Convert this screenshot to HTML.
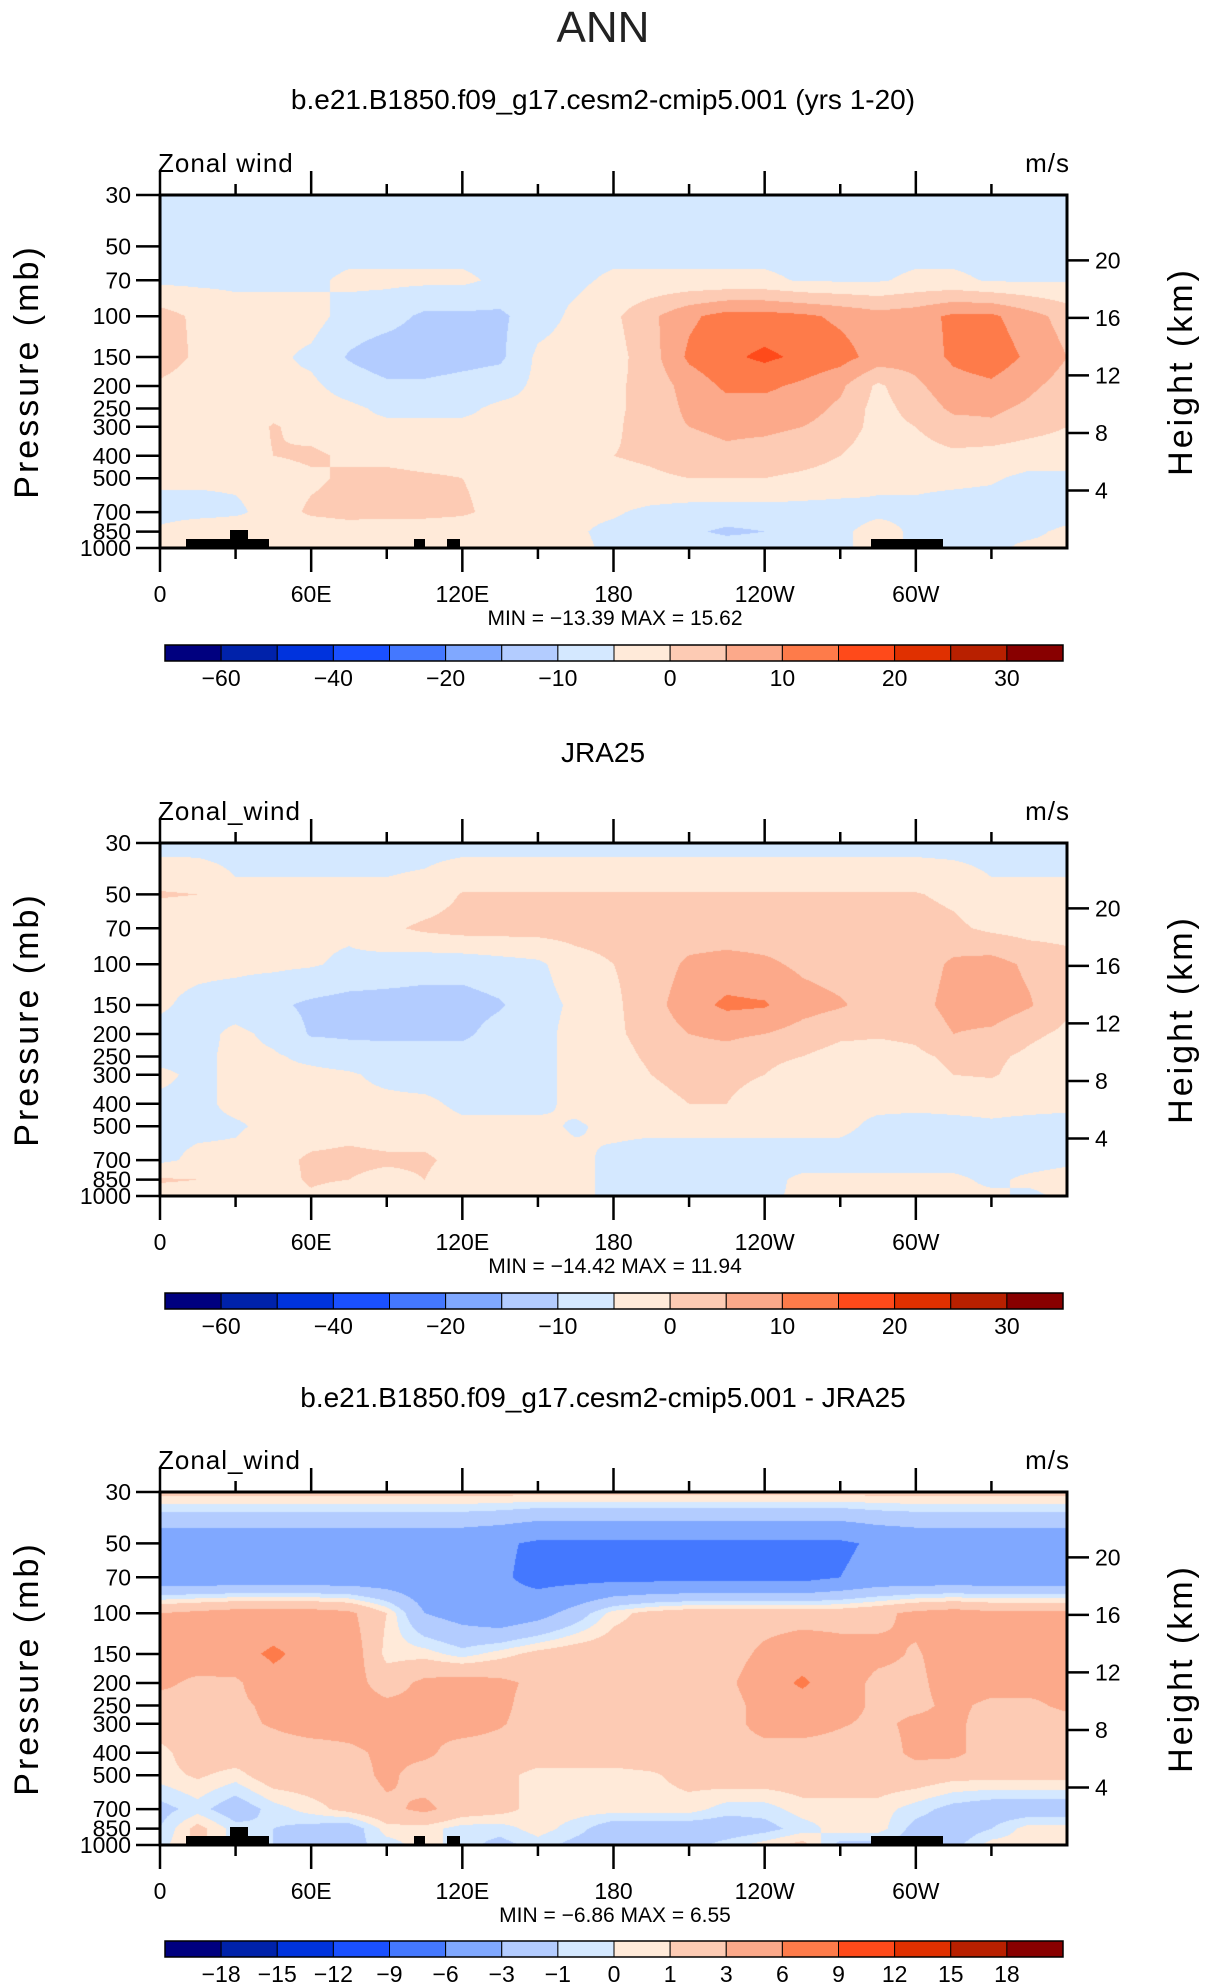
<!DOCTYPE html>
<html><head><meta charset="utf-8">
<style>
html,body{margin:0;padding:0;background:#fff;}
#wrap{position:relative;width:1206px;height:1987px;overflow:hidden;font-family:"Liberation Sans",sans-serif;}
canvas{position:absolute;}
svg{position:absolute;left:0;top:0;}
</style></head>
<body>
<div id="wrap">
<canvas id="c1"></canvas>
<canvas id="c2"></canvas>
<canvas id="c3"></canvas>
<svg id="ov" width="1206" height="1987"></svg>
</div>
<script>
// ---- data ----
const lons = [0,15,30,45,60,75,90,105,120,135,150,165,180,195,210,225,240,255,270,285,300,315,330,345,360];
const plevs = [30,50,70,100,150,200,250,300,400,500,700,850,1000];
const modelU = [
[-8,-8,-8,-8,-8,-8,-8,-8,-8,-8,-8,-8,-8,-8,-8,-8,-8,-8,-8,-8,-8,-8,-8,-8,-8],
[-7,-7,-7,-7,-7,-7,-7,-7,-7,-7,-7,-7,-7,-7,-7,-7,-7,-7,-7,-7,-7,-7,-7,-7,-7],
[-6,-6,-6,-6,-6,-4,-4,-4,-4,-6,-6,-6,-4,-4,-4,-4,-4,-5.5,-5.5,-5.5,-4,-4,-5.5,-5.5,-5.5],
[2,-1,-3,-3,-3,-7,-8,-11,-11,-11,-7,-4,-1,4,9,12,12,11,9,7,8,11,11,7,3],
[3,-1,-3,-4,-6,-10.5,-13,-13,-12,-11,-4,-3,-2,3,11,14,16,14,12,8,7,11,13,9,5],
[-1,-3,-4,-4,-4,-7,-9,-9,-8,-7,-4,-3,-1,2,7,11,11,9,6,-1,4,8,9,6,3],
[-2,-3,-4,-2,-3,-4,-6,-6,-6,-4,-4,-3,-1,2,6,8,8,7,4,-2,2,6,6,4,1],
[-3,-3,-4,0.5,-2,-4,-4,-4,-4,-4,-4,-3,-1,3,5,6,6,5,3,-2,0,3,4,2,0],
[-3,-3,-3,0,1,-1,-2,-3,-3,-3,-3,-2,0,1,3,4,3,2,0,-3,-2,-1,-2,-3,-3],
[-4,-4,-4,-3,-1,1,2,1,0,-2,-3,-3,-2,-1,0,0,0,-1,-2,-4,-4,-4,-4.5,-6,-6],
[-7,-7,-6,-3,1,2,2,2,1,-2,-3,-4,-4.5,-6,-7,-7,-7,-7,-7,-6,-6,-7,-7,-8,-7],
[-4,-1,-1,-4,-4,-3,-4,-4,-4,-4,-4,-4.5,-6,-7,-9,-11,-10,-8,-6,-3,-6,-7,-6,-6,-4],
[-4,-3,-3,-4,-4,-4,-4,-4,-4,-4,-4,-4,-6,-7,-7,-7,-7,-6,-6,-3,-6,-6,-6,-4,-4]];
const jraU = [
[-7,-7,-7,-7,-7,-7,-7,-7,-7,-7,-7,-7,-7,-7,-7,-7,-7,-7,-7,-7,-7,-7,-7,-7,-7],
[0.5,0,-4,-4,-4,-4,-4,-3,0.3,0.3,0.3,0.3,0.3,0.3,0.3,0.3,0.3,0.3,0.3,0.3,0.3,-1,-4,-4,-4],
[-4,-4,-4,-4,-4,-4,-1,1,2,2,2,2,2,2,2,2,2,2,2,2,2,1,-1,-2,-2],
[-4,-4,-4,-4,-4.5,-6,-7,-8,-8,-7,-6,-2,0,2,6,7,6,4,3,2,2,6,7,4,2],
[-4.5,-6,-7,-9,-11,-12,-12,-12,-12,-10.5,-7,-4,-1,3,8,11,10.5,7,5.5,3,3,7,8,5.5,1],
[-6,-6.5,-4,-6,-10.5,-11,-11,-11,-11,-8,-7,-3,-1,2,5,6,5,3,1,0.5,1,5,4,1,-1],
[-6.5,-6,-4,-4.5,-6,-7,-8,-8,-8,-7,-6,-4,-2,1,3,3,1,0,-2,-2,-1,1,1,-1,-3],
[-4,-6,-4,-4,-4,-4.5,-6,-7,-7,-7,-6,-4,-3,0,1,1,0,-2,-3,-3,-2,0,0.5,-2,-4],
[-6,-6,-4,-4,-4,-4,-4,-4,-6,-6,-6,-4,-3,-1,0,0,-2,-4,-4,-4,-4,-4,-4,-4,-4],
[-6,-6,-5.5,-4,-3,-2,-3,-3,-4,-4,-4,-5.5,-4,-4,-4,-4,-4,-4,-4,-6,-6.5,-6,-5.5,-6,-6.5],
[-6,-4,-4,-2,1,1.5,1,1,-2,-4,-4,-4,-6,-7,-7,-7,-7,-7,-7,-7,-7,-7,-7,-7,-6],
[0.5,0,-4,-3,1,0,-2,0,-4,-4,-4,-4,-6,-7,-7,-7,-6.5,-4,-4,-4,-4,-4,-6,-4,-3],
[-2,-2,-4,-4,-1,-4,-4,-4,-4,-4,-4,-4,-6,-6,-6,-6,-6,-4,-4,-3,-4,-4,-4,-6,-4]];
const diffU = [
[1.5,1.5,1.5,1.5,1.5,1.5,1.5,1.5,1.5,1.5,1.5,1.5,1.5,1.5,1.5,1.5,1.5,1.5,1.5,1.5,1.5,1.5,1.5,1.5,1.5],
[-5,-5,-5,-5,-5,-5,-5,-5,-5,-5.5,-6.5,-6.5,-6.5,-6.5,-6.5,-6.5,-6.5,-6.5,-6.5,-5.5,-5,-5,-5,-5,-5],
[-5,-5,-5,-5,-5,-5,-5,-5,-5,-5.5,-7,-7,-7,-7,-7,-7,-7,-7,-6,-5,-5,-5,-5,-5,-5],
[3,3.5,4,4,4,3.5,1,-3,-4,-5,-4,-2,0.5,1.5,2,2,2,2,2,2.5,3.5,4,3.5,3.5,3.5],
[4,4.5,5,6.5,5,4.5,0.5,0.5,-0.5,0.5,1.5,2,2,2,2,2,3.5,4.5,4,3.5,2.8,4,4.5,4.5,4.5],
[3.5,2.5,2.5,5,4.5,4,2,3.5,4,3.5,2.5,2,2,2,2,2.5,4.5,6.5,4,2.5,2.5,4,4,4,3.5],
[2,2.5,2.5,3.5,4.5,4,3.5,3.5,4,3.5,2,2,2,2,2,2,4,4.5,4,2.5,2.5,3.5,2.5,2.5,3.5],
[2,2,2.5,3.2,4,4,4,3.3,4,3.2,2,2,2,2,2,2,4,4,3.2,2.5,3.5,3.5,2,2,2],
[0.5,2,2,2,2,2.5,3.5,3.5,2,2,2,2,2,2,2,2,2,2,2,2,3.5,3.5,2,2,2],
[0.5,1.2,0.5,2,2,2,3.5,2,2,1.5,0.5,0.5,0.5,0.8,1.5,2,2,2,2,2,2,1.5,1.5,1.5,1.5],
[-1.5,-0.5,-2,-0.5,0.5,1.5,2.5,3.5,2,1.5,0.5,0.5,0.5,0.5,0.5,-0.5,-0.5,0.5,0.5,0.5,-0.5,-1.5,-2,-2,-2],
[-1,1.5,-0.5,-1,-1.5,-2,0.5,0.5,-0.5,-0.5,0.5,-0.5,-2,-2,-2,-2,-1.5,-0.5,0.5,0.5,-1.5,-2,-1,0.5,0.5],
[-0.5,1.5,-0.5,-1,-1.5,-1.5,-0.5,0.5,-0.5,-1.5,-0.5,-1.5,-2,-2,-1.5,-0.5,0.5,1.5,-1.5,-1.5,-1.5,-1.5,0.5,0.5,0.5]];
const levelsAbs = [-60,-50,-40,-30,-20,-15,-10,-5,0,5,10,15,20,25,30];
const levelsDiff = [-18,-15,-12,-9,-6,-3,-1,0,1,3,6,9,12,15,18];
const cbLabelsAbs = ["-60","-40","-20","-10","0","10","20","30"];
const cbLabelIdxAbs = [0,2,4,6,8,10,12,14];
const cbLabelsDiff = ["-18","-15","-12","-9","-6","-3","-1","0","1","3","6","9","12","15","18"];
const cbLabelIdxDiff = [0,1,2,3,4,5,6,7,8,9,10,11,12,13,14];
const colors = ["#00007f","#0022aa","#0033dd","#1a50ff","#4478ff","#80a8ff","#b3ccff","#d4e8ff","#ffead9","#fdcbb4","#fca98a","#fe7b4a","#ff4a1a","#e03000","#b82000","#880000"];
const xTickVals = [0,60,120,180,240,300];
const xTickLabels = ["0","60E","120E","180","120W","60W"];
const pTickVals = [30,50,70,100,150,200,250,300,400,500,700,850,1000];
const hTickVals = [4,8,12,16,20];

// ---- layout ----
const PX0=160, PX1=1067, PH=353;
const panels = [
 {top:195, data:modelU, lev:levelsAbs, canvas:'c1', title:'b.e21.B1850.f09_g17.cesm2-cmip5.001 (yrs 1-20)', titleY:99, label:'Zonal wind', minmax:['-13.39','15.62'], cbY:645, cbLabels:cbLabelsAbs, cbIdx:cbLabelIdxAbs, topo:true, key:'model'},
 {top:843, data:jraU, lev:levelsAbs, canvas:'c2', title:'JRA25', titleY:752, label:'Zonal_wind', minmax:['-14.42','11.94'], cbY:1293, cbLabels:cbLabelsAbs, cbIdx:cbLabelIdxAbs, topo:false, key:'jra25'},
 {top:1492, data:diffU, lev:levelsDiff, canvas:'c3', title:'b.e21.B1850.f09_g17.cesm2-cmip5.001 - JRA25', titleY:1397, label:'Zonal_wind', minmax:['-6.86','6.55'], cbY:1941, cbLabels:cbLabelsDiff, cbIdx:cbLabelIdxDiff, topo:true, key:'diff'}
];
const L30=Math.log(30), L1000=Math.log(1000);
function xOf(lon){return PX0+lon/360*(PX1-PX0);}
function yOfP(p,top){return top+(Math.log(p)-L30)/(L1000-L30)*PH;}
function yOfH(h,top){return yOfP(1000*Math.exp(-h/7),top);}
function hex(c){return [parseInt(c.substr(1,2),16),parseInt(c.substr(3,2),16),parseInt(c.substr(5,2),16)];}

const NS='http://www.w3.org/2000/svg';
const svg=document.getElementById('ov');
function el(tag,attrs,parent,name,inter){const e=document.createElementNS(NS,tag);for(const k in attrs)e.setAttribute(k,attrs[k]);
 
 
 (parent||svg).appendChild(e);return e;}
function txt(s,attrs,name){const t=el('text',Object.assign({'font-family':'Liberation Sans, sans-serif',fill:'#000'},attrs),svg,name,false);t.textContent=s;return t;}

txt('ANN',{x:603,y:42,'font-size':44,'text-anchor':'middle',fill:'#222'},'main-title');

panels.forEach(P=>{
 const W=PX1-PX0;
 const cv=document.getElementById(P.canvas);
 cv.width=W;cv.height=PH;cv.style.left=PX0+'px';cv.style.top=P.top+'px';
 const ctx=cv.getContext('2d');const img=ctx.createImageData(W,PH);
 const rgb=colors.map(hex);
 const rowY=plevs.map(p=>yOfP(p,P.top)-P.top);
 for(let y=0;y<PH;y++){
  let r=0;while(r<plevs.length-2&&rowY[r+1]<y+0.5)r++;
  const fy=Math.min(1,Math.max(0,(y+0.5-rowY[r])/(rowY[r+1]-rowY[r])));
  for(let x=0;x<W;x++){
   const lon=(x+0.5)/W*360;const ci=Math.min(lons.length-2,Math.floor(lon/15));const fx=(lon-lons[ci])/15;
   const a=P.data[r][ci],b=P.data[r][ci+1],c=P.data[r+1][ci],d=P.data[r+1][ci+1];
   const v=(a*(1-fx)+b*fx)*(1-fy)+(c*(1-fx)+d*fx)*fy;
   let i=0;while(i<P.lev.length&&v>=P.lev[i])i++;
   const k=(y*W+x)*4;img.data[k]=rgb[i][0];img.data[k+1]=rgb[i][1];img.data[k+2]=rgb[i][2];img.data[k+3]=255;
  }
 }
 ctx.putImageData(img,0,0);

 txt(P.title,{x:603,y:P.titleY+10,'font-size':28,'text-anchor':'middle'},P.key+'-title');
 txt(P.label,{x:158,y:P.top-23,'font-size':26,'letter-spacing':1},P.key+'-variable-label');
 txt('m/s',{x:1070,y:P.top-23,'font-size':26,'text-anchor':'end','letter-spacing':1},P.key+'-units-label');
 if(P.topo){
  const b=P.top+PH;
  [[186,269,9],[230,248,18],[414,425,9],[447,460,9],[871,943,9]].forEach(t=>{
   el('rect',{x:t[0],y:b-t[2],width:t[1]-t[0],height:t[2],fill:'#000'},svg,P.key+'-topography',false);});
 }
 el('rect',{x:PX0,y:P.top,width:W,height:PH,fill:'none',stroke:'#000','stroke-width':3},svg,P.key+'-plot-frame',false);
 for(let lon=0;lon<=330;lon+=30){
  const major=lon%60===0;const x=xOf(lon);const len=major?24:11;
  el('line',{x1:x,y1:P.top,x2:x,y2:P.top-len,stroke:'#000','stroke-width':2.5},svg,P.key+'-top-tick',false);
  el('line',{x1:x,y1:P.top+PH,x2:x,y2:P.top+PH+len,stroke:'#000','stroke-width':2.5},svg,P.key+'-bottom-tick',false);
 }
 xTickVals.forEach((v,i)=>{txt(xTickLabels[i],{x:xOf(v),y:P.top+PH+54,'font-size':23,'text-anchor':'middle'},P.key+'-x-tick-label');});
 pTickVals.forEach(p=>{const y=yOfP(p,P.top);
  el('line',{x1:PX0-24,y1:y,x2:PX0,y2:y,stroke:'#000','stroke-width':2.5},svg,P.key+'-y-tick',false);
  txt(String(p),{x:PX0-29,y:y+8,'font-size':23,'text-anchor':'end'},P.key+'-y-tick-label');});
 hTickVals.forEach(h=>{const y=yOfH(h,P.top);
  el('line',{x1:PX1,y1:y,x2:PX1+22,y2:y,stroke:'#000','stroke-width':2.5},svg,P.key+'-height-tick',false);
  txt(String(h),{x:PX1+28,y:y+8,'font-size':23},P.key+'-height-tick-label');});
 const cy=P.top+PH/2;
 txt('Pressure  (mb)',{x:38,y:cy,'font-size':34,'text-anchor':'middle',transform:'rotate(-90 38 '+cy+')','letter-spacing':3},P.key+'-y-axis-title');
 txt('Height  (km)',{x:1192,y:cy,'font-size':34,'text-anchor':'middle',transform:'rotate(-90 1192 '+cy+')','letter-spacing':3},P.key+'-right-axis-title');
 txt('MIN = '+P.minmax[0].replace('-','\u2212')+'   MAX =   '+P.minmax[1],{x:615,y:P.top+PH+77,'font-size':21,'text-anchor':'middle','xml:space':'preserve'},P.key+'-min-max-label');
 const cbx0=165,cbx1=1063,bw=(cbx1-cbx0)/colors.length;
 colors.forEach((c,i)=>{el('rect',{x:cbx0+i*bw,y:P.cbY,width:bw,height:16,fill:c,stroke:'#000','stroke-width':1},svg,P.key+'-colorbar-box',false);});
 el('rect',{x:cbx0,y:P.cbY,width:cbx1-cbx0,height:16,fill:'none',stroke:'#000','stroke-width':1.5},svg,P.key+'-colorbar-frame',false);
 P.cbLabels.forEach((s,i)=>{txt(s.replace('-','\u2212'),{x:cbx0+(P.cbIdx[i]+1)*bw,y:P.cbY+41,'font-size':23,'text-anchor':'middle'},P.key+'-colorbar-label');});
});
</script>
</body></html>
